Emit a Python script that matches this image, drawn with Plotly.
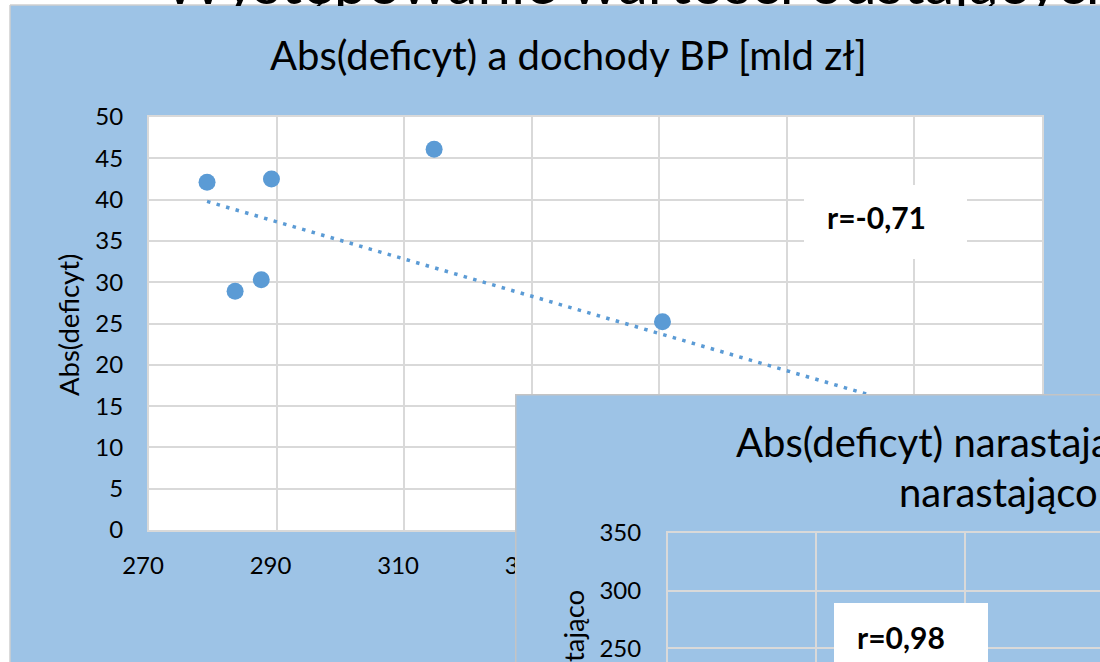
import numpy as np
import plotly.graph_objects as go

# Dochody budżetu państwa [mld zł] i wartość bezwzględna deficytu [mld zł]
dochody = [279.1, 283.5, 287.6, 289.2, 314.7, 350.5, 380.0, 398.7]
abs_deficyt = [42.1, 28.9, 30.3, 42.5, 46.1, 25.2, 10.4, 13.7]

# Osie pierwszego wykresu
x1_ticks = [270, 290, 310, 330, 350, 370, 390, 410]
y1_ticks = [0, 5, 10, 15, 20, 25, 30, 35, 40, 45, 50]
# Osie drugiego wykresu (narastająco)
y2_ticks = [250, 300, 350]
x2_ticks = [0, 500, 1000, 1500]

r_text_1 = "r=-0,71"
r_text_2 = "r=0,98"

W, H = 1100, 662
BLUE = "#9DC3E6"
MARK = "#5B9BD5"
GRID = "#D9D9D9"
FONT = "Lato"


def px(x):
    return x / W


def py(y):
    return 1 - y / H


fig = go.Figure()

# punkty i liniowa linia trendu
fig.add_trace(go.Scatter(
    x=dochody, y=abs_deficyt, mode="markers",
    marker=dict(color=MARK, size=17, line=dict(width=0)),
    xaxis="x", yaxis="y", showlegend=False, hoverinfo="skip",
))
a, b = np.polyfit(dochody, abs_deficyt, 1)
xs = np.array([min(dochody), max(dochody)])
fig.add_trace(go.Scatter(
    x=xs, y=a * xs + b, mode="lines",
    line=dict(color=MARK, width=3.5, dash="3.5px,6.4px"),
    xaxis="x", yaxis="y", showlegend=False, hoverinfo="skip",
))
# tło drugiego wykresu (osobny podwykres nad pierwszym)
fig.add_trace(go.Scatter(x=[], y=[], xaxis="x2", yaxis="y2",
                         showlegend=False, hoverinfo="skip"))
# drugi wykres: siatka i oś pionowa
fig.add_trace(go.Scatter(x=[], y=[], xaxis="x3", yaxis="y3",
                         showlegend=False, hoverinfo="skip"))

tickfont = dict(family=FONT, size=24, color="#000000")
axis_common = dict(showgrid=True, gridcolor=GRID, gridwidth=2, zeroline=False,
                   showline=True, linecolor=GRID, linewidth=2, ticks="",
                   tickfont=tickfont, fixedrange=True, automargin=False)

fig.update_layout(
    width=W, height=H,
    margin=dict(l=0, r=0, t=0, b=0, pad=0, autoexpand=False),
    paper_bgcolor=BLUE, plot_bgcolor="#FFFFFF",
    hovermode=False, showlegend=False,
    xaxis=dict(domain=[px(149), px(1042)], range=[x1_ticks[0], x1_ticks[-1]],
               tickvals=x1_ticks, mirror=True, anchor="y",
               ticklabelstandoff=13, ticklabelshift=-6, **axis_common),
    yaxis=dict(domain=[py(530), py(117)], range=[y1_ticks[0], y1_ticks[-1]],
               tickvals=y1_ticks, mirror=True, anchor="x",
               ticklabelstandoff=19, **axis_common),
    xaxis2=dict(domain=[px(515), 1], range=[0, 1], visible=False, anchor="y2",
                fixedrange=True, automargin=False),
    yaxis2=dict(domain=[0, py(394)], range=[0, 1], visible=False, anchor="x2",
                fixedrange=True, automargin=False),
    xaxis3=dict(domain=[px(668), 1], range=[0, 1455], tickvals=x2_ticks,
                side="top", showticklabels=False, anchor="y3", **axis_common),
    yaxis3=dict(domain=[0, py(533)], range=[238, 350], tickvals=y2_ticks,
                anchor="x3", ticklabelstandoff=20, **axis_common),
)

shapes = [
    # biały pasek u góry i z lewej strony
    dict(type="rect", xref="paper", yref="paper", x0=0, x1=1, y0=py(5), y1=1.01,
         fillcolor="#FFFFFF", line=dict(width=0), layer="below"),
    dict(type="rect", xref="paper", yref="paper", x0=-0.01, x1=px(10), y0=-0.01, y1=1.01,
         fillcolor="#FFFFFF", line=dict(width=0), layer="below"),
    dict(type="line", xref="paper", yref="paper", x0=px(10), x1=px(10), y0=-0.01, y1=py(5),
         line=dict(color="#CFCFCF", width=1.5), layer="below"),
    dict(type="line", xref="paper", yref="paper", x0=px(10), x1=1.01, y0=py(5), y1=py(5),
         line=dict(color="#CFCFCF", width=1.5), layer="below"),
    # panel drugiego wykresu
    dict(type="rect", xref="x2", yref="y2", x0=0, x1=2, y0=-1, y1=1,
         fillcolor=BLUE, line=dict(color="#C4C4C4", width=3), layer="below"),
    # białe pola z opisem współczynnika korelacji
    dict(type="rect", xref="paper", yref="paper", x0=px(804), x1=px(967),
         y0=py(259), y1=py(185), fillcolor="#FFFFFF", line=dict(width=0), layer="above"),
    dict(type="rect", xref="paper", yref="paper", x0=px(834), x1=px(988),
         y0=py(680), y1=py(603), fillcolor="#FFFFFF", line=dict(width=0), layer="above"),
]

annotations = [
    # nagłówek slajdu, częściowo przykryty panelem wykresu
    dict(text="Występowanie wartości odstających", x=px(161), y=py(-19.5),
         xanchor="left", yanchor="middle",
         font=dict(family=FONT, size=60, color="#000000")),
    # niebieska zasłona pod górną krawędzią panelu
    dict(text=".", x=px(10.75), y=py(5.75), xanchor="left", yanchor="top",
         width=1100, height=24, bgcolor=BLUE, borderpad=0, borderwidth=0,
         font=dict(family=FONT, size=10, color=BLUE)),
    dict(text="Abs(deficyt) a dochody BP [mld zł]", x=px(568), y=py(54.5),
         xanchor="center", yanchor="middle",
         font=dict(family=FONT, size=40, color="#000000")),
    dict(text="Abs(deficyt)", x=px(68), y=py(325), textangle=-90,
         xanchor="center", yanchor="middle",
         font=dict(family=FONT, size=27.5, color="#000000")),
    dict(text=f"<b>{r_text_1}</b>", x=px(876), y=py(217),
         xanchor="center", yanchor="middle",
         font=dict(family=FONT, size=30, color="#000000")),
    dict(text="Abs(deficyt) narastająco a dochody BP", x=px(734), y=py(441.5),
         xanchor="left", yanchor="middle",
         font=dict(family=FONT, size=40, color="#000000")),
    dict(text="narastająco [mld zł]", x=px(897), y=py(491.5),
         xanchor="left", yanchor="middle",
         font=dict(family=FONT, size=40, color="#000000")),
    dict(text="Abs(deficyt) narastająco", x=px(573), y=py(588), textangle=-90,
         xanchor="center", yanchor="top",
         font=dict(family=FONT, size=27.5, color="#000000")),
    dict(text=f"<b>{r_text_2}</b>", x=px(901), y=py(637),
         xanchor="center", yanchor="middle",
         font=dict(family=FONT, size=30, color="#000000")),
]
for ann in annotations:
    ann.update(xref="paper", yref="paper", showarrow=False)

fig.update_layout(shapes=shapes, annotations=annotations)

fig.write_html("out.html", config={"displayModeBar": False, "staticPlot": True})
